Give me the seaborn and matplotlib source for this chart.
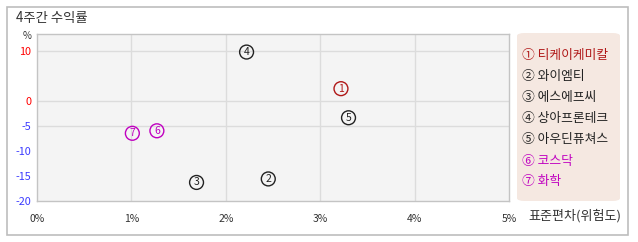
import matplotlib
matplotlib.use("Agg")
import matplotlib.pyplot as plt
from matplotlib.patches import Rectangle, FancyBboxPatch
import seaborn as sns
import pandas as pd

# ---- data ----
labels = ["①", "②", "③", "④", "⑤", "⑥", "⑦"]
digits = ["1", "2", "3", "4", "5", "6", "7"]
names = ["티케이케미칼", "와이엠티", "에스에프씨", "상아프론테크", "아우딘퓨쳐스", "코스닥", "화학"]
risk = [3.22, 2.45, 1.69, 2.22, 3.30, 1.27, 1.01]      # 표준편차 (%)
ret = [2.4, -15.6, -16.3, 9.7, -3.4, -6.0, -6.5]        # 4주간 수익률 (%)
colors = ["#b01818", "#222222", "#222222", "#222222", "#222222", "#c000c0", "#c000c0"]
yticks = [10, 0, -5, -10, -15, -20]
ytick_colors = ["#ff0000", "#ff0000", "#3a3aff", "#3a3aff", "#3a3aff", "#3a3aff"]
xticks = [0, 1, 2, 3, 4, 5]
xtick_labels = ["0%", "1%", "2%", "3%", "4%", "5%"]
title = "4주간 수익률"
xlabel = "표준편차(위험도)"

df = pd.DataFrame({"risk": risk, "ret": ret, "label": labels, "digit": digits,
                   "name": names, "color": colors})

sns.set_theme(style="white")
plt.rcParams["font.family"] = ["Noto Sans CJK KR", "DejaVu Sans"]

W, H = 638, 242
fig = plt.figure(figsize=(W / 100, H / 100), dpi=100)
fig.patch.set_facecolor("white")

def fx(px):
    return px / W

def fy(py):
    return 1 - py / H

# outer frame
fig.add_artist(Rectangle((fx(6.5), fy(235)), fx(621), 228 / H, transform=fig.transFigure,
                         facecolor="none", edgecolor="#bdbdbd", lw=1.2))

# title
fig.text(fx(16), fy(18), title, fontsize=9.6, color="#333333", va="center", ha="left")

# axes
ax = fig.add_axes([fx(37), fy(201), fx(509 - 37), (201 - 34) / H])
ax.set_facecolor("#f4f4f4")
ax.set_xlim(0, 5)
ax.set_ylim(-20, 13.3)
for s in ax.spines.values():
    s.set_color("#c4c4c4")
    s.set_linewidth(1.0)
for x in xticks[1:-1]:
    ax.axvline(x, color="#dcdcdc", lw=1.0, zorder=0)
for y in [10, 0, -5]:
    ax.axhline(y, color="#dcdcdc", lw=1.0, zorder=0)

sns.scatterplot(data=df, x="risk", y="ret", hue="label", palette=dict(zip(labels, colors)),
                marker="o", s=100, linewidth=1.0, legend=False, ax=ax, zorder=3)
coll = ax.collections[-1]
coll.set_edgecolors(colors)
coll.set_facecolors("none")

for _, r in df.iterrows():
    ax.text(r["risk"], r["ret"], r["digit"], color=r["color"], fontsize=7.5,
            ha="center", va="center", zorder=4)

ax.set_xticks(xticks)
ax.set_xticklabels(xtick_labels, fontsize=7.5, color="#333333")
ax.set_yticks(yticks)
ax.set_yticklabels([str(v) for v in yticks], fontsize=7.8)
for lab, c in zip(ax.get_yticklabels(), ytick_colors):
    lab.set_color(c)
ax.tick_params(axis="both", length=0, pad=9)
ax.tick_params(axis="y", pad=4)
ax.set_xlabel("")
ax.set_ylabel("")

fig.text(fx(27), fy(36), "%", fontsize=7, color="#333333", ha="center", va="center")
fig.text(fx(528), fy(216), xlabel, fontsize=9.4, color="#333333", ha="left", va="center")

# legend box
fig.add_artist(FancyBboxPatch((fx(517), fy(201)), fx(620 - 517), (201 - 33) / H,
                              boxstyle="round,pad=0,rounding_size=0.012",
                              transform=fig.transFigure, facecolor="#f5e8e1", edgecolor="none"))
ys = [55, 76.5, 97.5, 118.5, 140, 161, 182]
for lab, nm, c, yy in zip(labels, names, colors, ys):
    fig.text(fx(522), fy(yy), f"{lab} {nm}", fontsize=9.2, color=c, ha="left", va="center")

fig.savefig("out.png", dpi=100, facecolor="white")
